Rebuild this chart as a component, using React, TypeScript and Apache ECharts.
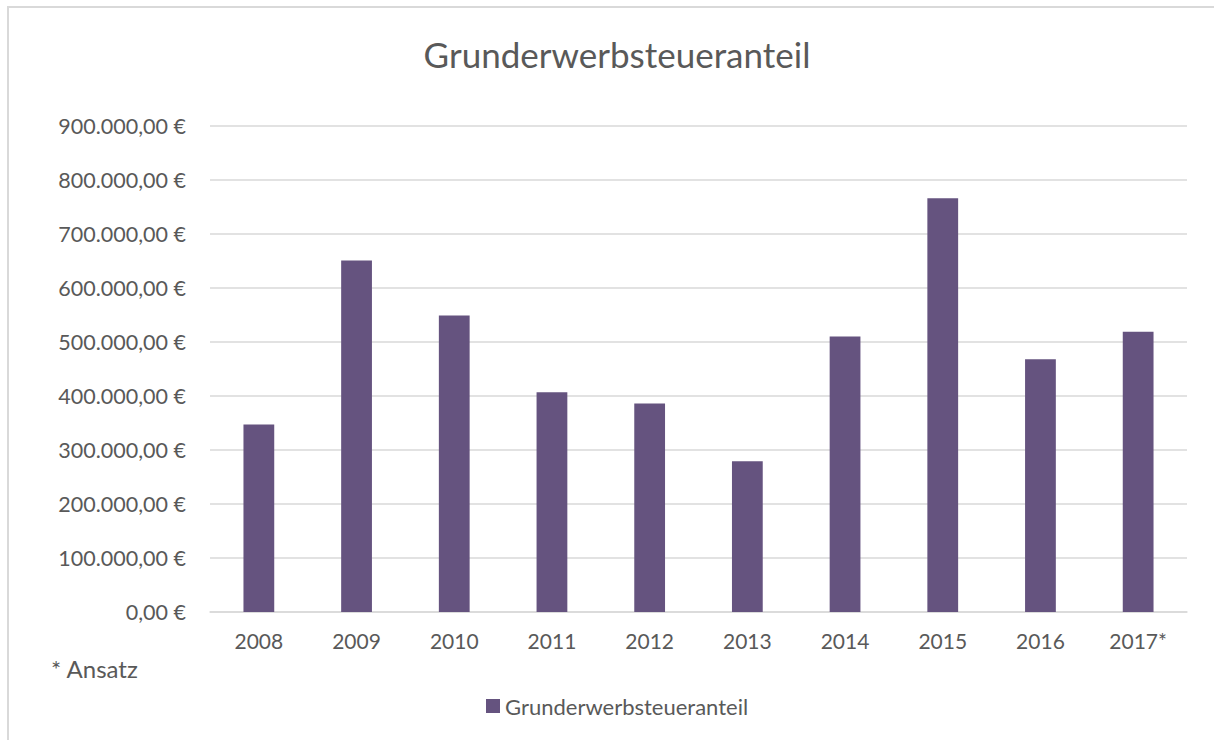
import React, { useEffect, useRef } from "react";
import * as echarts from "echarts";

const categories = ["2008", "2009", "2010", "2011", "2012", "2013", "2014", "2015", "2016", "2017*"];
const values = [347000, 651000, 549000, 407000, 386000, 279000, 510000, 766000, 468000, 519000];
const seriesName = "Grunderwerbsteueranteil";
const titleText = "Grunderwerbsteueranteil";
const noteText = "* Ansatz";

const FONT = "Lato, 'Open Sans', sans-serif";
const TEXT = "#595959";
const LINE = "#d9d9d9";

function fmt(v: number): string {
  const s = Math.round(v).toString().replace(/\B(?=(\d{3})+(?!\d))/g, ".");
  return s + ",00 €";
}

export default function App() {
  const ref = useRef<HTMLDivElement>(null);
  useEffect(() => {
    if (!ref.current) return;
    const chart = echarts.init(ref.current, undefined, { renderer: "svg" });
    chart.setOption({
      animation: false,
      backgroundColor: "#ffffff",
      title: {
        text: titleText,
        left: 612,
        textAlign: "center",
        top: 31,
        textStyle: { fontFamily: FONT, fontSize: 35, fontWeight: "normal", color: TEXT },
      },
      legend: {
        top: 690,
        left: 481,
        itemWidth: 14,
        itemHeight: 14,
        itemGap: 5,
        icon: "rect",
        textStyle: { fontFamily: FONT, fontSize: 22, color: TEXT, padding: [0, 0, 0, 0] },
        data: [seriesName],
      },
      grid: { left: 210, right: 27, top: 126, bottom: 128 },
      xAxis: {
        type: "category",
        data: categories,
        axisLine: { lineStyle: { color: LINE, width: 1.5 } },
        axisTick: { show: false },
        axisLabel: { fontFamily: FONT, fontSize: 21, color: TEXT, margin: 18 },
      },
      yAxis: {
        type: "value",
        min: 0,
        max: 900000,
        interval: 100000,
        axisLine: { show: false },
        axisTick: { show: false },
        splitLine: { lineStyle: { color: LINE, width: 1.5 } },
        axisLabel: { fontFamily: FONT, fontSize: 21.5, color: TEXT, margin: 24, formatter: (v: number) => fmt(v) },
      },
      series: [
        {
          name: seriesName,
          type: "bar",
          data: values,
          barWidth: "31.5%",
          itemStyle: { color: "#65537f" },
        },
      ],
      graphic: [
        {
          type: "rect",
          shape: { x: 8, y: 7, width: 1300, height: 900 },
          style: { fill: "none", stroke: LINE, lineWidth: 2 },
          silent: true,
        },
        {
          type: "text",
          x: 51,
          y: 656,
          style: { text: noteText, fontFamily: FONT, fontSize: 24, fill: TEXT },
        },
      ],
    });
    return () => chart.dispose();
  }, []);
  return <div ref={ref} style={{ position: "absolute", left: 0, top: 0, width: 1214, height: 740 }} />;
}
